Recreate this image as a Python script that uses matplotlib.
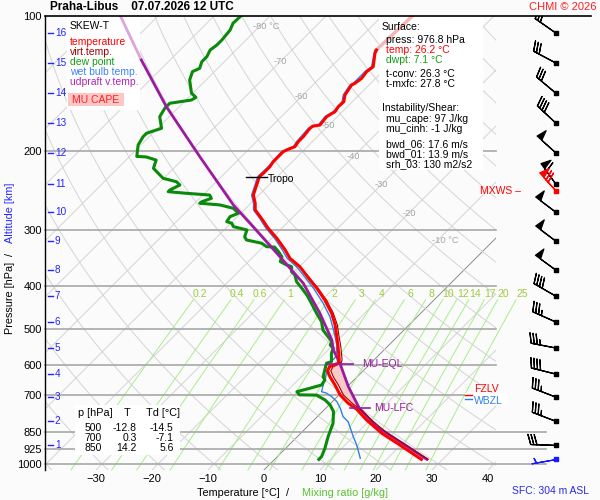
import numpy as np
import matplotlib
matplotlib.use("Agg")
import matplotlib.pyplot as plt
from matplotlib.transforms import Affine2D
from matplotlib.patches import Rectangle
from matplotlib.ticker import NullLocator

plt.rcParams['font.family'] = ['Liberation Sans', 'DejaVu Sans']

# ---------------- data ----------------
temp_p = [100, 119.1, 121.1, 129.8, 133.1, 137.7, 141.3, 142.6, 150.1, 155.4, 159.4, 163.5, 167.8, 175.2, 176.1,
          178.1, 186.0, 190.8, 195.7, 199.1, 200.9, 211.5, 217.0, 224.4, 228.4, 236.3, 251.0, 261.8, 271.0, 282.9,
          297.8, 313.4, 332.9, 347.3, 362.8, 388.4, 405.3, 430.5, 460.9, 489.4, 519.8, 547.2, 586.0, 596.0, 606.5,
          619.1, 638.5, 666.4, 701.5, 731.8, 754.8, 797.9, 854.3, 907.2, 976.8]
temp_T = [-54.5, -54.9, -54.6, -52.5, -52.8, -52.5, -52.8, -53.1, -52.5, -51.5, -51.6, -51.3, -51.9, -51.6, -52.7,
          -52.8, -52.5, -52.5, -52.2, -53.1, -53.4, -53.4, -53.1, -53.1, -53.2, -52.4, -51.0, -49.2, -48.0, -45.4,
          -42.4, -39.1, -35.5, -33.2, -29.9, -25.7, -23.0, -19.5, -15.9, -13.2, -10.8, -8.8, -6.2, -5.8, -6.7,
          -6.4, -4.9, -2.5, 0.2, 3.1, 5.7, 9.4, 14.5, 19.8, 26.2]

dew_p = [100, 103.8, 107.5, 113.1, 116.1, 119.1, 123.3, 126.5, 130.9, 133.1, 139.0, 148.8, 151.9, 154.0, 156.6,
         160.7, 167.8, 178.1, 182.7, 186.0, 194.1, 205.8, 206.4, 209.7, 218.8, 230.3, 234.4, 238.4, 244.6, 246.7,
         248.8, 251.0, 255.3, 259.8, 261.8, 264.1, 268.7, 275.6, 280.5, 287.8, 290.2, 295.3, 300.4, 311.0, 316.2,
         321.6, 327.3, 328.0, 335.8, 344.6, 353.4, 359.5, 362.7, 372.2, 378.6, 391.9, 405.3, 419.5, 437.8, 460.9,
         481.3, 502.1, 533.3, 542.4, 551.6, 566.0, 591.0, 596.0, 617.0, 638.5, 649.5, 666.4, 677.7, 689.7, 701.0,
         702.0, 719.7, 738.5, 764.2, 811.7, 869.3, 922.6, 963.2, 976.8]
dew_T = [-85.2, -85.3, -84.6, -84.3, -84.3, -84.6, -84.0, -84.0, -83.2, -83.9, -82.9, -80.2, -78.7, -79.0, -82.3,
         -82.3, -81.7, -79.3, -81.1, -81.1, -80.5, -78.7, -76.9, -74.6, -73.6, -70.1, -67.1, -65.9, -66.8, -66.8,
         -63.2, -58.8, -57.9, -59.0, -59.1, -55.2, -52.2, -50.4, -51.3, -51.0, -49.8, -48.9, -45.9, -45.1, -44.2,
         -40.9, -39.4, -37.9, -36.4, -34.9, -34.3, -32.6, -31.4, -30.5, -29.3, -27.8, -25.7, -23.6, -21.3, -18.6,
         -16.2, -14.5, -10.8, -10.5, -9.4, -8.8, -7.3, -7.9, -7.0, -6.1, -5.2, -4.9, -6.4, -8.1, -7.1,
         -4.0, -1.6, 0.2, 2.0, 4.0, 5.5, 7.0, 7.9, 7.9]

wb_p = [100, 119.1, 129.8, 133.1, 141.3, 142.6, 150.1, 155.4, 163.5, 167.8, 175.2, 178.1, 190.8, 195.7, 200.9,
        217.0, 228.4, 236.3, 251.0, 261.8, 271.0, 282.9, 297.8, 313.4, 332.9, 347.3, 362.8, 378.6, 405.3, 437.8,
        469.1, 502.1, 542.4, 576.1, 596.0, 627.6, 666.4, 689.7, 695.3, 707.6, 725.8, 751.0, 784.3, 804.7, 825.6,
        869.3, 907.2, 971.2]
wb_T = [-54.8, -55.2, -52.8, -53.1, -53.1, -53.4, -52.8, -51.8, -51.6, -52.2, -51.9, -53.1, -52.8, -52.5, -53.7,
        -53.4, -53.5, -52.7, -51.3, -49.5, -48.3, -45.7, -42.8, -39.5, -36.0, -33.7, -30.5, -27.8, -23.6, -19.2,
        -15.6, -12.6, -9.3, -7.4, -7.3, -6.1, -4.6, -3.7, -2.5, -1.0, 0.8, 2.6, 4.6, 6.4, 7.6,
        10.0, 12.1, 15.1]

tv_p = [297.8, 313.4, 332.9, 347.3, 362.8, 388.4, 405.3, 430.5, 460.9, 489.4, 519.8, 547.2, 586.0, 596.0, 606.5,
        619.1, 638.5, 666.4, 701.5, 731.8, 754.8, 797.9, 854.3, 907.2, 976.8]
tv_T = [-42.4, -39.0, -35.4, -33.1, -29.8, -25.5, -22.8, -19.2, -15.6, -12.8, -10.4, -8.3, -5.7, -5.3, -6.1,
        -5.8, -4.3, -1.9, 0.8, 3.8, 6.3, 10.3, 15.5, 20.9, 27.4]

parcel_p = [100, 125.4, 159.4, 206.1, 264.1, 295.3, 338.6, 395.2, 460.9, 528.7, 556.6, 596.0, 672.3, 751.0,
            825.6, 891.9, 976.8]
parcel_T = [-106.7, -95.1, -82.3, -67.4, -52.8, -45.4, -36.4, -26.3, -18.0, -11.1, -9.05, -5.5, 0.2, 6.0,
            12.4, 19.2, 27.2]

alt_km = [1, 2, 3, 4, 5, 6, 7, 8, 9, 10, 11, 12, 13, 14, 15, 16]
alt_p = [909, 803, 709, 630, 551, 482, 422, 369, 318, 274, 237, 202, 173.3, 148.6, 127.3, 109.1]

wind_p = [909, 803, 709, 630, 551, 482, 422, 369, 318, 274, 237, 202, 173.3, 148.6, 127.3, 109.1]
wind_dir = [272, 291, 291, 284, 281, 294, 300, 306, 307, 307, 324, 312, 313, 310, 298, 305]
wind_spd = [30, 35, 35, 40, 35, 35, 40, 50, 50, 50, 60, 50, 40, 30, 30, 30]
sfc_p, sfc_dir, sfc_spd = 976.8, 260, 5
mxws_p, mxws_dir, mxws_spd = 246.0, 318, 70

tropo_p, tropo_T = 228.4, -53.2
eql_p, lfc_p = 597.0, 752.0
fzlv_p, wbzl_p = 700.0, 716.0

p_ticks = [100, 200, 300, 400, 500, 600, 700, 850, 925, 1000]
t_ticks = [-30, -20, -10, 0, 10, 20, 30, 40]
mix_ratios = [0.2, 0.4, 0.6, 1, 2, 3, 4, 6, 8, 10, 12, 14, 17, 20, 25]
iso_labels = [-80, -70, -60, -50, -40, -30, -20, -10]
iso_label_p = [105.8, 126.6, 151.0, 176.0, 206.3, 238.3, 275.3, 316.4]

tbl_p = [500, 700, 850]
tbl_T = [-12.8, 0.3, 14.2]
tbl_Td = [-14.5, -7.1, 5.6]

info_lines = [("Surface:", 'k', 382, 27), ("press: 976.8 hPa", 'k', 386, 40), ("temp: 26.2 °C", '#ff0000', 386, 50),
              ("dwpt: 7.1 °C", '#10a010', 386, 60), ("t-conv: 26.3 °C", 'k', 386, 74),
              ("t-mxfc: 27.8 °C", 'k', 386, 84), ("Instability/Shear:", 'k', 382, 108),
              ("mu_cape: 97 J/kg", 'k', 386, 119), ("mu_cinh: -1 J/kg", 'k', 386, 129),
              ("bwd_06: 17.6 m/s", 'k', 386, 144), ("bwd_01: 13.9 m/s", 'k', 386, 154),
              ("srh_03: 130 m2/s2", 'k', 386, 164)]

# ---------------- styles ----------------
C_T = '#ff0000'
C_TV = '#a00000'
C_TD = '#0a8a0a'
C_WB = '#2f7fe8'
C_PC = '#9c1aa0'
GRID = '#d4d4d4'
BG = '#fbfbfb'

W, H = 600, 500
fig = plt.figure(figsize=(W / 100, H / 100), dpi=100, facecolor=BG)
L, R, TOP, BOT = 45, 496, 16, 470
ax = fig.add_axes([L / W, 1 - BOT / H, (R - L) / W, (BOT - TOP) / H])
ax.set_facecolor(BG)
ax.set_yscale('log')
P_BOT = 1031.6
ax.set_ylim(P_BOT, 100)
ax.set_xlim(-39.1, 41.43)

y0 = ax.transAxes.transform((0, 0))[1]
skew = ax.transData + Affine2D().translate(0, -y0).skew_deg(45, 0).translate(0, y0)


def ftext(x, y, s, **kw):
    kw.setdefault('va', 'center')
    kw.setdefault('fontsize', 7.5)
    return fig.text(x / W, 1 - y / H, s, **kw)


def fbox(x0, y0_, x1, y1, color='white', z=2):
    r = Rectangle((x0 / W, 1 - y1 / H), (x1 - x0) / W, (y1 - y0_) / H, transform=fig.transFigure,
                  facecolor=color, edgecolor='none', zorder=z, clip_on=False)
    ax.add_patch(r)


# grid: isotherms, dry adiabats
for t in range(-140, 50, 10):
    ax.plot([t, t], [P_BOT, 100], transform=skew, color='#8c8c8c' if t == 0 else GRID, lw=0.7, zorder=1)
pp = np.logspace(np.log10(P_BOT), 2, 150)
for th in range(-50, 210, 10):
    tt = (th + 273.15) * (pp / 1000.) ** 0.2857 - 273.15
    ax.plot(tt, pp, transform=skew, color=GRID, lw=0.7, zorder=1)

# mixing ratio lines
pm = np.logspace(np.log10(P_BOT), np.log10(430), 40)
for w in mix_ratios:
    e = w * pm / (622 + w)
    a = np.log(e / 6.112)
    td = 243.5 * a / (17.67 - a)
    ax.plot(td, pm, transform=skew, color='#a8ee88', lw=0.7, zorder=1.2, clip_on=False)
    ax.text(td[-1], 417, ('%g' % w), transform=skew, color='#9ccc3c', fontsize=7.5,
            ha='center', va='center', zorder=1.3, clip_on=False)

# isotherm labels
for t, p in zip(iso_labels, iso_label_p):
    if t in (-80, -10):
        ax.text(t - 1.1, p, '%d °C' % t, transform=skew, color='#a4a4a4', fontsize=6.7, ha='left', va='center')
    else:
        ax.text(t, p, '%d' % t, transform=skew, color='#a4a4a4', fontsize=6.7, ha='center', va='center')

# pressure lines
for p in p_ticks[1:]:
    xm = (546 - L) / (R - L) if p >= 850 else 1.0
    ax.axhline(p, 0, xm, color='#a8a8a8', lw=1.2, zorder=1.5, clip_on=False)
ax.axhline(100, 0, (591 - L) / (R - L), color='k', lw=1.2, zorder=6, clip_on=False)

# boxes
fbox(67, 17, 140, 110)
fbox(379, 17, 483, 170)
fbox(75, 405, 180, 455)
fbox(68, 93, 124, 106, color='#ffc6c6', z=2.1)

# profiles
tp, tT = np.array(temp_p), np.array(temp_T)
dp, dT = np.array(dew_p), np.array(dew_T)
wp, wT = np.array(wb_p), np.array(wb_T)
pcp, pcT = np.array(parcel_p), np.array(parcel_T)

# CAPE area
pg = np.logspace(np.log10(eql_p - 1), np.log10(lfc_p), 80)
tv_i = np.interp(np.log(pg), np.log(tv_p), tv_T)
pc_i = np.interp(np.log(pg), np.log(pcp), pcT)
ax.fill_betweenx(pg, tv_i, pc_i, where=pc_i > tv_i, transform=skew, facecolor='#f9c8c8',
                 edgecolor='none', zorder=2.5)

top_w = wp <= 119.1
ax.plot(wT[top_w], wp[top_w], transform=skew, color='#a9c8f6', lw=1.0, zorder=3)
ax.plot(wT[wp >= 119.1], wp[wp >= 119.1], transform=skew, color=C_WB, lw=1.0, zorder=3)
ax.plot(dT, dp, transform=skew, color=C_TD, lw=2.2, zorder=3.2)
ax.plot(pcT[pcp <= 125.4], pcp[pcp <= 125.4], transform=skew, color='#dca6dc', lw=2.0, zorder=3.3)
ax.plot(pcT[pcp >= 125.4], pcp[pcp >= 125.4], transform=skew, color=C_PC, lw=2.0, zorder=3.3)
ax.plot(tv_T, tv_p, transform=skew, color=C_TV, lw=0.8, zorder=3.4)
ax.plot(tT[tp <= 119.1], tp[tp <= 119.1], transform=skew, color='#ffb4b4', lw=2.2, zorder=3.5)
ax.plot(tT[tp >= 119.1], tp[tp >= 119.1], transform=skew, color=C_T, lw=2.2, zorder=3.5)

# markers: tropopause, EQL, LFC
ax.plot([tropo_T - 2.3, tropo_T + 1.4], [tropo_p, tropo_p], transform=skew, color='k', lw=1.0, zorder=4)
ax.text(tropo_T + 1.8, tropo_p * 1.01, 'Tropo', transform=skew, fontsize=7.5, ha='left', va='center', zorder=8)
for p0, name, half, off in [(eql_p, 'MU-EQL', 2.4, 3.9), (lfc_p, 'MU-LFC', 1.8, 2.6)]:
    tpc = np.interp(np.log(p0), np.log(pcp), pcT)
    ax.plot([tpc - half, tpc + half], [p0, p0], transform=skew, color=C_PC, lw=1.2, zorder=4)
    ax.text(tpc + off, p0, name, transform=skew, color=C_PC, fontsize=7.5, ha='left', va='center', zorder=8)

# freezing / wet-bulb zero levels
yt = ax.get_yaxis_transform()
ax.text(0.952, fzlv_p * 0.972, 'FZLV', transform=yt, color='red', fontsize=7.5, va='center', ha='left',
        zorder=7, clip_on=False)
fbox(465, 393, 508, 405, z=8)
ax.plot([0.931, 0.947], [fzlv_p, fzlv_p], transform=yt, color='red', lw=1.0, clip_on=False, zorder=9)
ax.plot([0.931, 0.947], [wbzl_p, wbzl_p], transform=yt, color=C_WB, lw=1.0, clip_on=False, zorder=9)
ax.text(0.952, wbzl_p * 1.012, 'WBZL', transform=yt, color=C_WB, fontsize=7.5, va='center', ha='left',
        zorder=9, clip_on=False)

# altitude ticks (left, inside)
for km, p in zip(alt_km, alt_p):
    ax.plot([0.007, 0.018], [p, p], transform=yt, color='#2424ff', lw=1.0, zorder=5)
    ax.text(0.022, p, str(km), transform=yt, color='#2424ff', fontsize=7.2, ha='left', va='center', zorder=8)

# axes cosmetics
for s in ('top', 'right', 'bottom'):
    ax.spines[s].set_visible(False)
ax.spines['left'].set_color('k')
ax.spines['left'].set_linewidth(1.0)
ax.set_yticks(p_ticks)
ax.set_yticklabels([str(p) for p in p_ticks])
ax.yaxis.set_minor_locator(NullLocator())
ax.set_xticks(t_ticks)
ax.tick_params(axis='both', length=0, labelsize=8)
ax.tick_params(axis='y', pad=2.2)
ax.tick_params(axis='x', pad=2.6)

# wind barbs column
bax = fig.add_axes([R / W, 1 - BOT / H, (W - R) / W, (BOT - TOP) / H])
bax.set_yscale('log')
bax.set_ylim(P_BOT, 100)
bax.set_xlim(0, W - R)
bax.axis('off')
bx = 59.7
wd = np.radians(np.array(wind_dir, float))
ws = np.array(wind_spd, float)
bax.barbs(np.full(len(wind_p), bx), wind_p, -ws * np.sin(wd), -ws * np.cos(wd), length=6, pivot='tip',
          color='k', lw=0.9, zorder=5)
bax.scatter(np.full(len(wind_p), bx), wind_p, marker='s', s=5, color='k', zorder=6)
for p0, d0, s0, c in [(mxws_p, mxws_dir, mxws_spd, 'red'), (sfc_p, sfc_dir, sfc_spd, '#1a1aff')]:
    r0 = np.radians(d0)
    bax.barbs([bx], [p0], [-s0 * np.sin(r0)], [-s0 * np.cos(r0)], length=6, pivot='tip', color=c, lw=0.9, zorder=7)
    bax.scatter([bx], [p0], marker='s', s=5, color=c, zorder=8)
bax.text(24.7, mxws_p, 'MXWS –', color='red', fontsize=7.5, ha='right', va='center')

# legend texts
ftext(70, 26, 'SKEW-T', zorder=10)
for s, c, yy in [('temperature', '#ff0000', 42.3), ('virt.temp.', '#a00000', 52.3), ('dew point', '#10a010', 62.3),
                 ('wet bulb temp.', '#3a84f0', 72.3), ('udpraft v.temp.', '#b026b8', 82.3)]:
    ftext(70, yy, s, color=c, zorder=10)
ftext(96, 100, 'MU CAPE', color='#ff2020', ha='center', zorder=10)

# info texts
for s, c, xx, yy in info_lines:
    ftext(xx, yy, s, color=c, zorder=10)

# table
ftext(78, 413, 'p [hPa]', fontsize=7.8)
ftext(127.5, 413, 'T', fontsize=7.8, ha='center')
ftext(146, 413, 'Td [°C]', fontsize=7.8)
for i, (p, t, d) in enumerate(zip(tbl_p, tbl_T, tbl_Td)):
    yy = 428.3 + 10 * i
    ftext(102, yy, str(p), ha='right')
    ftext(137, yy, '%.1f' % t, ha='right')
    ftext(173.5, yy, '%.1f' % d, ha='right')

# titles and axis labels
ftext(50, 7.5, 'Praha-Libus    07.07.2026 12 UTC', fontsize=8.5, fontweight='bold')
ftext(563, 7.5, 'CHMI © 2026', color='#ff2020', fontsize=8, ha='center')
ftext(238.5, 493, 'Temperature [°C]', fontsize=7.8, ha='center')
ftext(288, 493, '/', fontsize=7.8, ha='center')
ftext(345, 493, 'Mixing ratio [g/kg]', fontsize=7.8, ha='center', color='#5cc030')
ftext(10, 298, 'Pressure [hPa]', fontsize=7.8, ha='center', rotation=90)
ftext(10, 254, '/', fontsize=7.8, ha='center', rotation=90)
ftext(10, 213, 'Altitude [km]', fontsize=7.8, ha='center', rotation=90, color='#2424ff')
ftext(550.5, 491, 'SFC: 304 m ASL', fontsize=7.5, ha='center', color='#2a2ae6')

fig.savefig('out.png', dpi=100, facecolor=BG)
